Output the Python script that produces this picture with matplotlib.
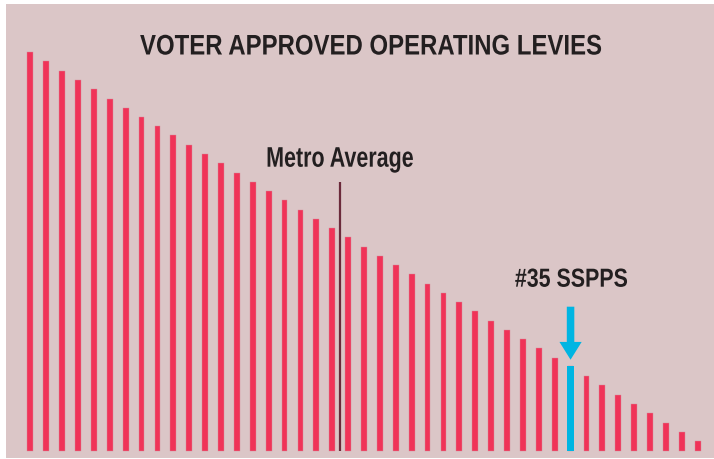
import numpy as np
import matplotlib
matplotlib.use('Agg')
import matplotlib.pyplot as plt
import matplotlib.patheffects as pe
from matplotlib.transforms import Affine2D

# levy level per district, ranked high to low (arbitrary units)
levy = [398.4, 389.4, 380.0, 371.0, 361.7, 352.0, 343.0, 333.7, 324.4, 315.4,
        305.7, 296.7, 287.4, 278.0, 269.0, 259.4, 250.4, 241.0, 231.7, 222.4,
        213.4, 203.7, 194.7, 185.7, 176.4, 166.7, 157.7, 148.7, 139.4, 130.0,
        120.7, 111.4, 102.4, 93.0, 85.0, 74.4, 65.4, 56.0, 46.7, 37.4,
        28.0, 18.7, 9.7]
rank = 35              # SSPPS rank (1-based)
metro_pos = 19.5       # metro average sits between rank 20 and 21
metro_top = 269

bg = '#dbc6c7'
red = '#f03358'
blue = '#00b5e2'
dark = '#231f20'
metro_col = '#6b2a3b'

W, H = 714, 459
fig = plt.figure(figsize=(W / 100, H / 100), dpi=100, facecolor='white')
renderer = fig.canvas.get_renderer()


class Narrow(pe.AbstractPathEffect):
    # squeeze glyphs sideways to mimic a condensed face
    def __init__(self, sx):
        super().__init__()
        self.sx = sx

    def draw_path(self, renderer, gc, tpath, affine, rgbFace=None):
        renderer.draw_path(gc, tpath, Affine2D().scale(self.sx, 1) + affine, rgbFace)


def narrow_text(cx, base, s, size, width):
    # cx, base in pixels from bottom-left
    t = fig.text(0, base / H, s, ha='left', va='baseline', fontsize=size,
                 fontweight='bold', color=dark, family='Liberation Sans')
    w0 = t.get_window_extent(renderer).width
    t.set_path_effects([Narrow(width / w0)])
    t.set_x((cx - width / 2) / W)
    return t


ax = fig.add_axes([6 / W, 1 / H, 708 / W, 454 / H])
ax.set_facecolor(bg)
for s in ax.spines.values():
    s.set_visible(False)
ax.set_xticks([])
ax.set_yticks([])

x = np.arange(len(levy))
hl = rank - 1
cols = [blue if i == hl else red for i in x]
ax.bar(x, levy, width=0.36, color=cols, edgecolor='#d88a9a', linewidth=0.3)
ax.bar(hl, levy[hl], width=0.44, color=blue, linewidth=0)

ax.set_xlim((6 - 30.3) / 15.89, (714 - 30.3) / 15.89)
ax.set_ylim(-7.3, 446.7)

# metro average marker
ax.vlines(metro_pos, 0, metro_top, color=metro_col, lw=1.6)
px, py = ax.transData.transform((metro_pos, metro_top + 15))
narrow_text(px, py, 'Metro Average', 20.4, 148)

# SSPPS label and arrow
px, py = ax.transData.transform((hl + 0.05, levy[hl] + 79))
narrow_text(px, py, '#35 SSPPS', 18.8, 113)
ax.annotate('', xy=(hl, levy[hl] + 6), xytext=(hl, levy[hl] + 59),
            arrowprops=dict(arrowstyle='simple,head_length=0.64,head_width=0.8,tail_width=0.27',
                            color=blue, mutation_scale=20, shrinkA=0, shrinkB=0, lw=0))

narrow_text(371, H - 54.5, 'VOTER APPROVED OPERATING LEVIES', 20.4, 462)

fig.savefig('out.png', dpi=100, facecolor='white')
